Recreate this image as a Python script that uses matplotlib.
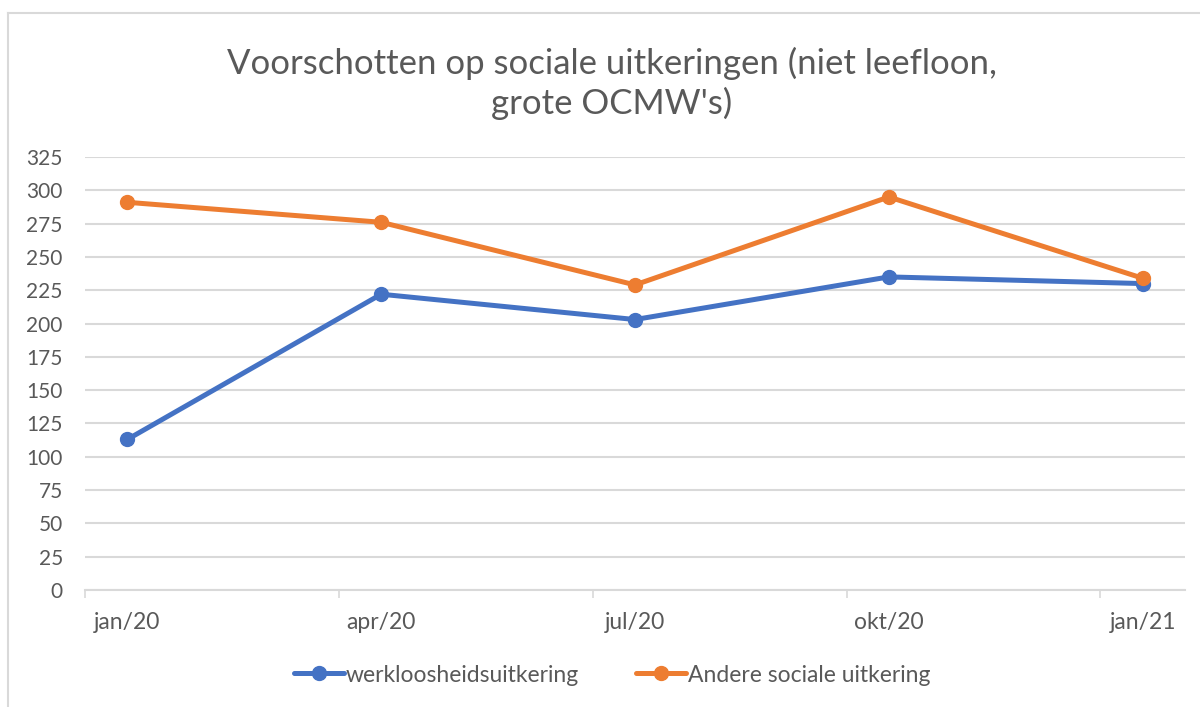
import numpy as np
import matplotlib.pyplot as plt
from matplotlib.lines import Line2D

# Months since jan/20, data points sit mid-month (Excel date axis)
months = [0, 3, 6, 9, 12]
month_labels = ["jan/20", "apr/20", "jul/20", "okt/20", "jan/21"]
werkloosheid = [113, 222, 203, 235, 230]
andere = [291, 276, 229, 295, 234]

BLUE = "#4472C4"
ORANGE = "#ED7D31"
GRID = "#D9D9D9"
TEXT = "#595959"

plt.rcParams['font.family'] = ['Lato', 'DejaVu Sans']

fig = plt.figure(figsize=(12, 7.07), dpi=100)
ax = fig.add_axes([85 / 1200, 1 - 590 / 707, 1100 / 1200, 433 / 707])

x = np.array(months) + 0.5
ax.plot(x, werkloosheid, color=BLUE, lw=3.6, marker='o', ms=10,
        label="werkloosheidsuitkering", solid_capstyle='round')
ax.plot(x, andere, color=ORANGE, lw=3.6, marker='o', ms=10,
        label="Andere sociale uitkering", solid_capstyle='round')

ax.set_xlim(0, 13)
ax.set_ylim(0, 325)
ax.set_yticks(np.arange(0, 326, 25))
ax.yaxis.grid(True, color=GRID, lw=1.5)
ax.set_axisbelow(True)
ax.tick_params(axis='y', length=0, pad=16, labelsize=15, labelcolor=TEXT)

ax.set_xticks(months)
ax.set_xticklabels([])
ax.set_xticks(x, minor=True)
ax.set_xticklabels(month_labels, minor=True)
ax.tick_params(axis='x', which='major', length=6, width=1.2, color=GRID)
ax.tick_params(axis='x', which='minor', length=0, pad=16, labelsize=16.5,
               labelcolor=TEXT)

for s in ['top', 'right', 'left']:
    ax.spines[s].set_visible(False)
ax.spines['bottom'].set_color(GRID)
ax.spines['bottom'].set_linewidth(1.5)

fig.text(612 / 1200, 1 - 83 / 707, "Voorschotten op sociale uitkeringen (niet leefloon,\ngrote OCMW's)",
         ha='center', va='center', fontsize=25, color=TEXT, linespacing=1.25)

ax.legend(loc='center', bbox_to_anchor=((612 - 85) / 1100, -(675 - 590) / 433), ncol=2,
          frameon=False, fontsize=16.5, labelcolor=TEXT, handlelength=2.2,
          handletextpad=0.05, columnspacing=2.5)

# outer chart border
fig.add_artist(Line2D([8 / 1200, 8 / 1200], [0, 1 - 13 / 707],
                      transform=fig.transFigure, color=GRID, lw=1.5))
fig.add_artist(Line2D([8 / 1200, 1], [1 - 13 / 707, 1 - 13 / 707],
                      transform=fig.transFigure, color=GRID, lw=1.5))

fig.savefig("out.png", dpi=100)
